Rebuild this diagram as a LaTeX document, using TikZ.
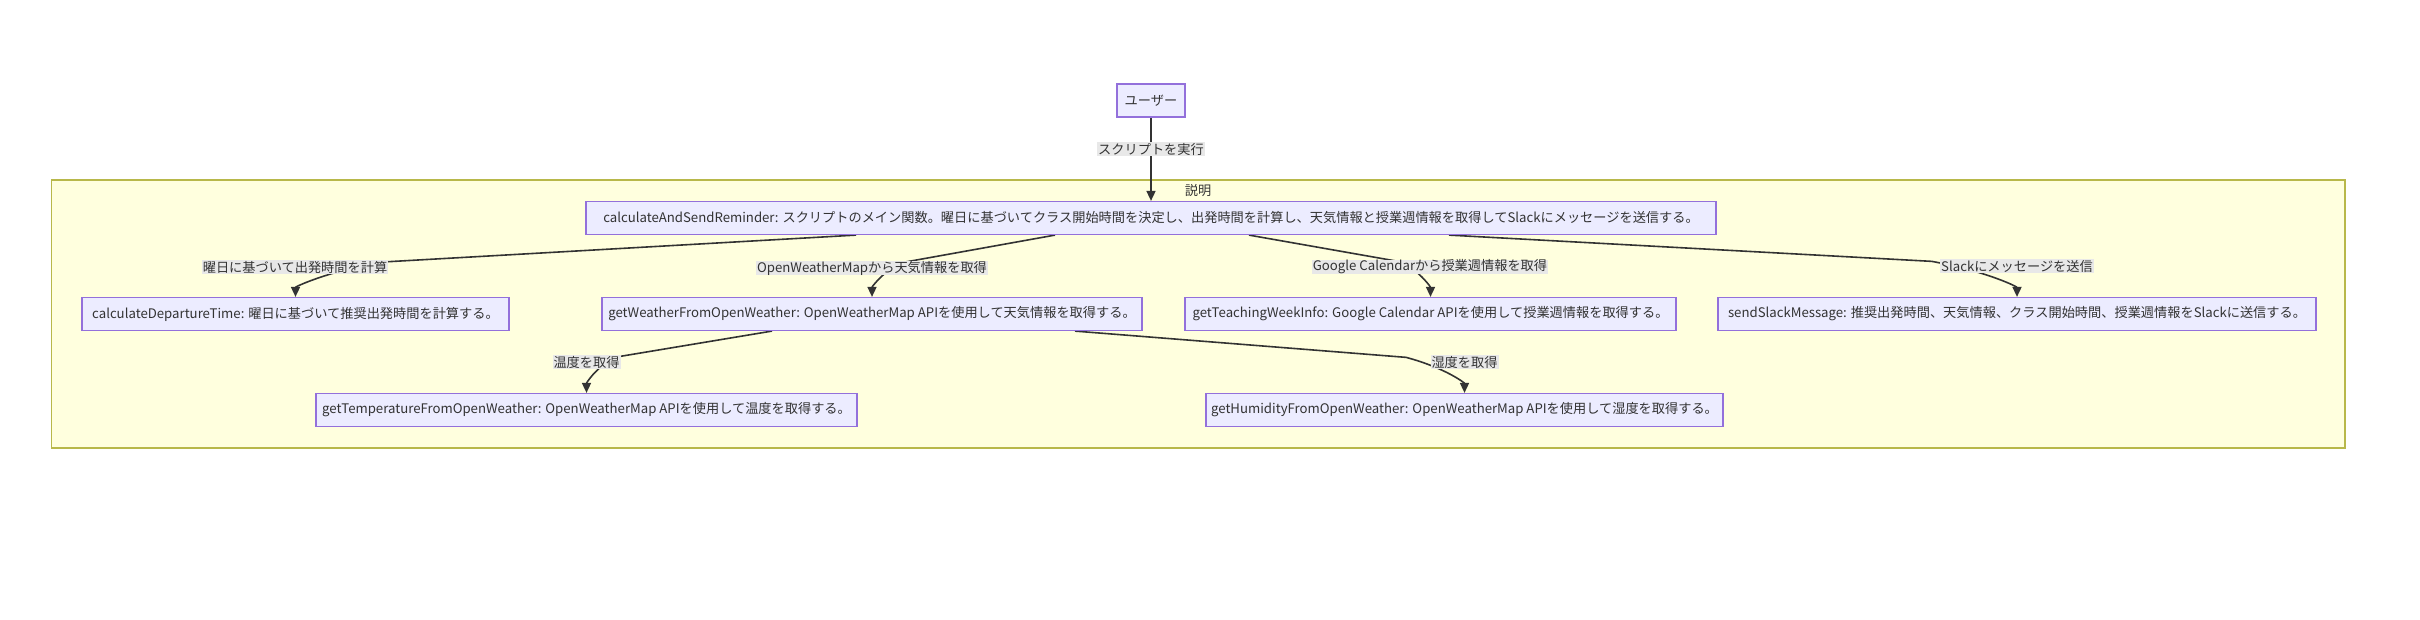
\documentclass[tikz,border=0pt]{standalone}
\usepackage{fontspec}
\setmainfont{Noto Sans CJK JP}
\usetikzlibrary{arrows.meta,calc}
\definecolor{nodefill}{HTML}{ECECFF}
\definecolor{nodeline}{HTML}{9370DB}
\definecolor{clfill}{HTML}{FFFFDE}
\definecolor{clline}{HTML}{B8B84A}
\definecolor{ink}{HTML}{333333}
\definecolor{lblbg}{HTML}{E8E8E8}
\pgfdeclarelayer{bg}
\pgfdeclarelayer{edges}
\pgfsetlayers{bg,edges,main}
\begin{document}
\begin{tikzpicture}[x=1pt,y=-1pt,
  font=\fontsize{13.2}{16}\selectfont, text=ink,
  box/.style={draw=nodeline, fill=nodefill, line width=1.2pt, minimum height=33pt, inner sep=0pt, text=ink},
  lbl/.style={fill=lblbg, inner xsep=1pt, inner ysep=0pt, minimum height=14pt, text=ink},
  edge/.style={draw=ink, line width=1.6pt, -{Triangle[length=10pt,width=9pt]}},
  cluster/.style={draw=clline, fill=clfill, line width=1.2pt, inner sep=0pt}]
\useasboundingbox (0,0) rectangle (2420,620);
\begin{pgfonlayer}{bg}
  \fill[white] (0,0) rectangle (2420,620);
  \node[cluster, minimum width=2293.5pt, minimum height=268pt] (cl) at (1198.25,314) {};
\end{pgfonlayer}
\node (cltitle) at (1198,191) {説明};

% nodes
\node[box, minimum width=68pt] (user) at (1151,100.5) {ユーザー};
\node[box, minimum width=1130pt] (main) at (1151,218) {calculateAndSendReminder: スクリプトのメイン関数。曜日に基づいてクラス開始時間を決定し、出発時間を計算し、天気情報と授業週情報を取得してSlackにメッセージを送信する。};
\node[box, minimum width=427pt] (dep) at (295.5,314) {calculateDepartureTime: 曜日に基づいて推奨出発時間を計算する。};
\node[box, minimum width=540pt] (weather) at (872,314) {getWeatherFromOpenWeather: OpenWeatherMap APIを使用して天気情報を取得する。};
\node[box, minimum width=491pt] (teach) at (1430.5,314) {getTeachingWeekInfo: Google Calendar APIを使用して授業週情報を取得する。};
\node[box, minimum width=598pt] (slack) at (2017,314) {sendSlackMessage: 推奨出発時間、天気情報、クラス開始時間、授業週情報をSlackに送信する。};
\node[box, minimum width=541pt] (temp) at (586.5,410) {getTemperatureFromOpenWeather: OpenWeatherMap APIを使用して温度を取得する。};
\node[box, minimum width=517pt] (hum) at (1464.5,410) {getHumidityFromOpenWeather: OpenWeatherMap APIを使用して湿度を取得する。};

% edge labels
\node[lbl] (l0) at (1151,149.5) {スクリプトを実行};
\node[lbl] (l1) at (295,267) {曜日に基づいて出発時間を計算};
\node[lbl] (l2) at (872,268) {OpenWeatherMapから天気情報を取得};
\node[lbl] (l3) at (1430,267) {Google Calendarから授業週情報を取得};
\node[lbl] (l4) at (2017,266) {Slackにメッセージを送信};
\node[lbl] (l5) at (586.5,362) {温度を取得};
\node[lbl] (l6) at (1464.5,362) {湿度を取得};

% edge start points
\coordinate (s1) at ([xshift=-295pt]main.south);
\coordinate (s2) at ([xshift=-96pt]main.south);
\coordinate (s3) at ([xshift=98pt]main.south);
\coordinate (s4) at ([xshift=298pt]main.south);
\coordinate (s5) at ([xshift=-100pt]weather.south);
\coordinate (s6) at ([xshift=203pt]weather.south);

\begin{pgfonlayer}{edges}
  \draw[edge] (user.south) -- (main.north);
  \draw[edge] (s1) -- ($(l1)!0.15!(s1)$) .. controls ($(l1)+(28,6)$) and ($(dep.north)+(0,-10)$) .. (dep.north);
  \draw[edge] (s2) -- ($(l2)!0.15!(s2)$) .. controls ($(l2)+(9,6)$) and ($(weather.north)+(0,-10)$) .. (weather.north);
  \draw[edge] (s3) -- ($(l3)!0.15!(s3)$) .. controls ($(l3)+(-9,6)$) and ($(teach.north)+(0,-10)$) .. (teach.north);
  \draw[edge] (s4) -- ($(l4)!0.15!(s4)$) .. controls ($(l4)+(-28,6)$) and ($(slack.north)+(0,-10)$) .. (slack.north);
  \draw[edge] (s5) -- ($(l5)!0.15!(s5)$) .. controls ($(l5)+(9,6)$) and ($(temp.north)+(0,-10)$) .. (temp.north);
  \draw[edge] (s6) -- ($(l6)!0.15!(s6)$) .. controls ($(l6)+(-19,6)$) and ($(hum.north)+(0,-10)$) .. (hum.north);
\end{pgfonlayer}
\end{tikzpicture}
\end{document}
